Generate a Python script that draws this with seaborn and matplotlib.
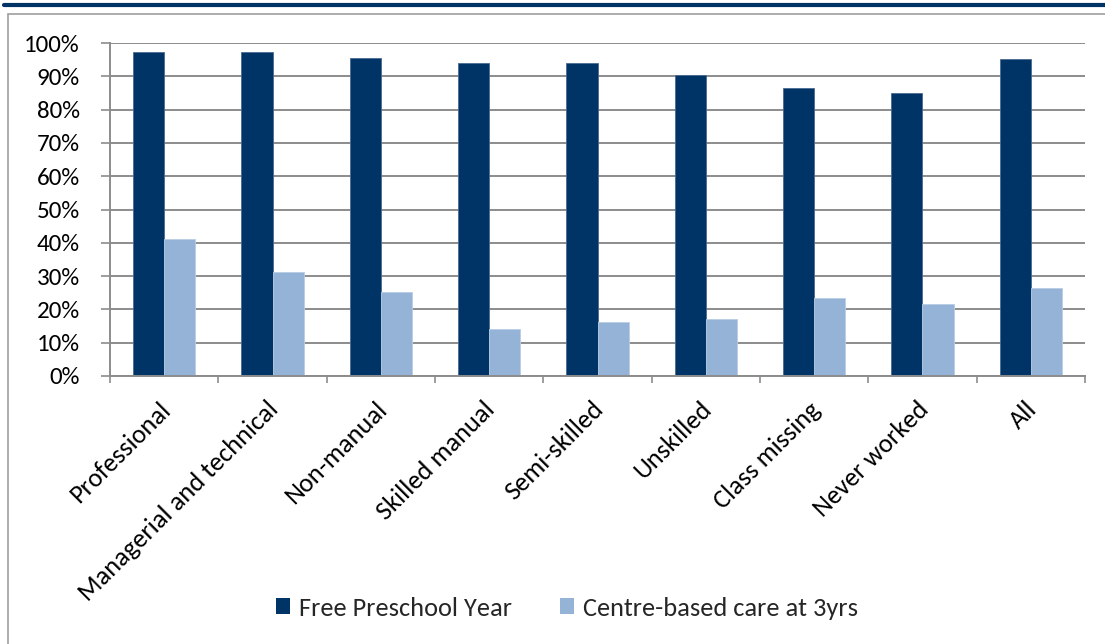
import matplotlib
matplotlib.use("Agg")
import matplotlib.pyplot as plt
from matplotlib.lines import Line2D
from matplotlib.patches import Rectangle, Patch
from matplotlib.ticker import PercentFormatter, FixedLocator
from matplotlib.transforms import ScaledTranslation
import seaborn as sns
import pandas as pd

# Social class groups and the share of children in each setting (%)
classes = ["Professional", "Managerial and technical", "Non-manual", "Skilled manual",
           "Semi-skilled", "Unskilled", "Class missing", "Never worked", "All"]
free_preschool = [97.4, 97.2, 95.5, 93.9, 93.9, 90.4, 86.4, 84.9, 95.2]
centre_care_3yrs = [41.0, 31.2, 25.1, 14.1, 16.1, 17.1, 23.3, 21.6, 26.3]
series_names = ["Free Preschool Year", "Centre-based care at 3yrs"]
y_ticks = [0, 10, 20, 30, 40, 50, 60, 70, 80, 90, 100]

dark_blue = "#003366"
light_blue = "#95B3D7"
grid_grey = "#8C8C8C"

df = pd.DataFrame({
    "Class": classes * 2,
    "Share": free_preschool + centre_care_3yrs,
    "Series": [series_names[0]] * len(classes) + [series_names[1]] * len(classes),
})

sns.set_theme(style="white")
plt.rcParams["font.family"] = ["Carlito", "DejaVu Sans"]

fig = plt.figure(figsize=(11.05, 6.44), dpi=100)
ax = fig.add_axes([110 / 1105, 1 - 376 / 644, 975 / 1105, 333 / 644])

sns.barplot(data=df, x="Class", y="Share", hue="Series", order=classes,
            hue_order=series_names, palette=[dark_blue, light_blue],
            saturation=1, width=0.573, gap=0, dodge=True, ax=ax, legend=False,
            linewidth=0.6, edgecolor="none")
for bar, ec in zip(ax.patches, ["#4a6a92"] * len(classes) + ["#b8cde6"] * len(classes)):
    bar.set_edgecolor(ec)

ax.set_ylim(0, 100)
ax.set_xlim(-0.5, len(classes) - 0.5)
ax.yaxis.set_major_locator(FixedLocator(y_ticks))
ax.yaxis.set_major_formatter(PercentFormatter(100, decimals=0))
ax.grid(axis="y", color=grid_grey, linewidth=1.4)
ax.set_axisbelow(True)
ax.set_xlabel("")
ax.set_ylabel("")

for side in ["top", "right"]:
    ax.spines[side].set_visible(False)
for side in ["left", "bottom"]:
    ax.spines[side].set_color(grid_grey)
    ax.spines[side].set_linewidth(1.4)

ax.tick_params(axis="y", which="major", length=6.5, width=1.2, color=grid_grey,
               pad=15.3, labelsize=18, labelcolor="black", left=True)
ax.set_xticks(range(len(classes)))
ax.set_xticklabels(classes, rotation=45, ha="right", rotation_mode="anchor")
ax.tick_params(axis="x", which="major", length=0, pad=14, labelsize=19,
               labelcolor="black", bottom=True)
ax.set_xticks([i - 0.5 for i in range(len(classes) + 1)], minor=True)
ax.tick_params(axis="x", which="minor", length=5, width=1.2, color=grid_grey,
               bottom=True)

# nudge the slanted category labels slightly left
shift = ScaledTranslation(-6 / 100, -2 / 100, fig.dpi_scale_trans)
for lbl in ax.get_xticklabels():
    lbl.set_transform(lbl.get_transform() + shift)

handles = [Patch(facecolor=dark_blue, edgecolor="none"),
           Patch(facecolor=light_blue, edgecolor="none")]
fig.legend(handles, series_names, loc="center", bbox_to_anchor=(567 / 1105, 1 - 608 / 644),
           ncol=2, frameon=False, fontsize=19, handlelength=0.53, handleheight=0.55,
           handletextpad=0.35, columnspacing=1.8)

# Page decoration: navy rule across the top and a grey chart frame
fig.add_artist(Line2D([4 / 1105, 1], [1 - 5 / 644, 1 - 5 / 644],
                      color=dark_blue, linewidth=3, transform=fig.transFigure))
fig.add_artist(Rectangle((8 / 1105, -0.2), 1.2, 1.2 - 14 / 644,
                         fill=False, edgecolor="#9E9E9E", linewidth=1.2,
                         transform=fig.transFigure))

fig.savefig("out.png", dpi=100)
